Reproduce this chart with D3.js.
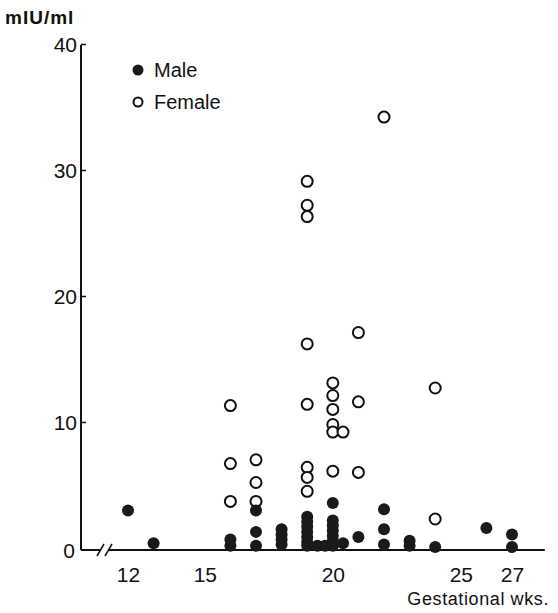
<!DOCTYPE html>
<html>
<head>
<meta charset="utf-8">
<script src="https://cdn.jsdelivr.net/npm/d3@7"></script>
<style>
  body { margin: 0; background: #fff; }
  text { font-family: "Liberation Sans", Arial, sans-serif; fill: #111; }
</style>
</head>
<body>
<svg id="chart" width="558" height="613"></svg>
<script>
// gestational week and value (mIU/ml) for each fetus
var maleWeeks  = [12, 13, 16, 16, 17, 17, 17, 18, 18, 18, 18, 19, 19, 19, 19, 19, 19, 19, 19.4, 19.7,
                  20, 20, 20, 20, 20, 20, 20, 20.4, 21, 22, 22, 22, 23, 23, 24, 26, 27, 27];
var maleValues = [2.9, 0.3, 0.1, 0.6, 2.9, 1.2, 0.1, 1.4, 1.0, 0.6, 0.2, 2.4, 2.0, 1.6, 1.2, 0.8, 0.4, 0.1, 0.1, 0.1,
                  3.5, 2.1, 1.7, 1.3, 0.9, 0.5, 0.1, 0.3, 0.8, 3.0, 1.4, 0.2, 0.5, 0.1, 0.0, 1.5, 1.0, 0.0];

var femaleWeeks  = [16, 16, 16, 17, 17, 17, 19, 19, 19, 19, 19, 19, 19, 19,
                    20, 20, 20, 20, 20, 20.4, 20, 21, 21, 21, 22, 24, 24];
var femaleValues = [11.3, 6.7, 3.7, 7.0, 5.2, 3.7, 29.1, 27.2, 26.3, 16.2, 11.4, 6.4, 5.6, 4.5,
                    13.1, 12.1, 11.0, 9.8, 9.2, 9.2, 6.1, 17.1, 11.6, 6.0, 34.2, 12.7, 2.3];

var xTicks = [12, 15, 20, 25, 27];
var yTicks = [10, 20, 30, 40];

var svg = d3.select("#chart");

var x = d3.scaleLinear().domain([12, 27]).range([128, 512]);
var y = d3.scaleLinear().domain([0, 40]).range([548, 44]);

var axisX = 81, axisY = 550;

// y axis line
svg.append("line")
  .attr("x1", axisX).attr("x2", axisX)
  .attr("y1", y(40) + 1).attr("y2", axisY)
  .attr("stroke", "#111").attr("stroke-width", 2);

// y ticks
var yAxis = d3.axisLeft(y).tickValues(yTicks).tickSize(0).tickPadding(4);
var yg = svg.append("g")
  .attr("transform", `translate(${axisX},0)`)
  .call(yAxis);
yg.select(".domain").remove();
yg.selectAll("text").style("font-size", "21px").attr("dy", "0.36em");
yg.selectAll(".tick").append("line")
  .attr("x1", 0).attr("x2", 5).attr("stroke", "#111").attr("stroke-width", 1.5);

svg.append("text").attr("x", axisX - 6).attr("y", axisY + 8)
  .attr("text-anchor", "end").style("font-size", "21px").text("0");

// x axis with break
svg.append("path")
  .attr("d", `M${axisX},${axisY} L${x(27.5) + 20},${axisY}`)
  .attr("stroke", "#111").attr("stroke-width", 2);
svg.append("rect").attr("x", 101).attr("y", axisY - 6).attr("width", 8).attr("height", 12).attr("fill", "#fff");
[100, 108].forEach(function(bx) {
  svg.append("line")
    .attr("x1", bx - 3).attr("y1", axisY + 6)
    .attr("x2", bx + 4).attr("y2", axisY - 6)
    .attr("stroke", "#111").attr("stroke-width", 1.5);
});

var xAxis = d3.axisBottom(x).tickValues(xTicks).tickSize(0).tickPadding(28);
var xg = svg.append("g")
  .attr("transform", `translate(0,${axisY})`)
  .call(xAxis);
xg.select(".domain").remove();
xg.selectAll("text").style("font-size", "21px").attr("dy", "0.2em");

svg.append("text").attr("x", 549).attr("y", 605)
  .attr("text-anchor", "end").style("font-size", "18px").style("letter-spacing", "0.6px")
  .text("Gestational wks.");

svg.append("text").attr("x", 5).attr("y", 24)
  .style("font-size", "19px").style("font-weight", "bold").style("letter-spacing", "1px")
  .text("mIU/ml");

// points
var males = maleWeeks.map((w, i) => ({ w: w, v: maleValues[i] }));
var females = femaleWeeks.map((w, i) => ({ w: w, v: femaleValues[i] }));

svg.append("g").selectAll("circle")
  .data(females)
  .enter()
  .append("circle")
    .attr("cx", d => x(d.w))
    .attr("cy", d => y(d.v))
    .attr("r", 5.5)
    .attr("fill", "#fff")
    .attr("stroke", "#111")
    .attr("stroke-width", 2);

svg.append("g").selectAll("circle")
  .data(males)
  .enter()
  .append("circle")
    .attr("cx", d => x(d.w))
    .attr("cy", d => y(d.v) - 1)
    .attr("r", 6)
    .attr("fill", "#1a1a1a");

// legend
svg.append("circle").attr("cx", 138).attr("cy", 70).attr("r", 5.5).attr("fill", "#1a1a1a");
svg.append("circle").attr("cx", 138).attr("cy", 102).attr("r", 4.5)
  .attr("fill", "#fff").attr("stroke", "#111").attr("stroke-width", 2);
svg.append("text").attr("x", 154).attr("y", 77).style("font-size", "20px").text("Male");
svg.append("text").attr("x", 154).attr("y", 109).style("font-size", "20px").text("Female");
</script>
</body>
</html>
